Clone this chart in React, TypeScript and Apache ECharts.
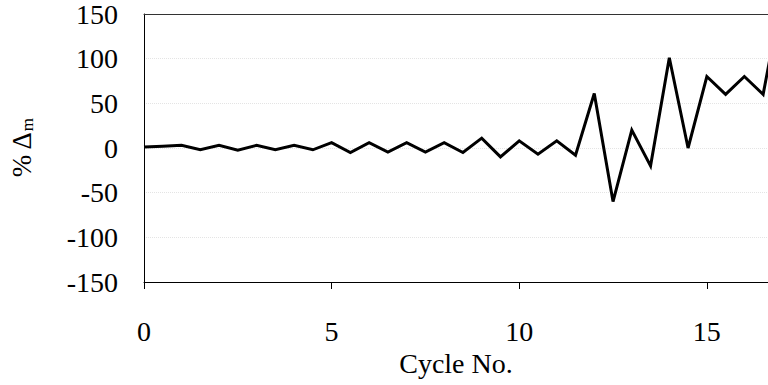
import React, { useEffect, useRef } from "react";
import * as echarts from "echarts";

const cycles: number[] = [
  0, 0.5, 1, 1.5, 2, 2.5, 3, 3.5, 4, 4.5, 5, 5.5, 6, 6.5, 7, 7.5, 8, 8.5,
  9, 9.5, 10, 10.5, 11, 11.5, 12, 12.5, 13, 13.5, 14, 14.5, 15, 15.5, 16,
  16.5, 17,
];
const deltaM: number[] = [
  1, 2, 3, -2, 3, -2.5, 3, -2, 3, -2, 6, -5, 6, -4.5, 6, -4.5, 6, -5, 11,
  -10, 8, -7, 8, -8, 61, -60, 20, -20, 101, 0, 80, 60, 80, 60, 170,
];
const xTicks: number[] = [0, 5, 10, 15];
const yTicks: number[] = [-150, -100, -50, 0, 50, 100, 150];

const FONT = "Liberation Serif";

export default function App() {
  const ref = useRef<HTMLDivElement>(null);
  useEffect(() => {
    if (!ref.current) return;
    const chart = echarts.init(ref.current, undefined, { renderer: "svg" });
    const data = cycles.map((c, i) => [c, deltaM[i]]);
    chart.setOption({
      animation: false,
      backgroundColor: "#ffffff",
      grid: { left: 142, top: 13.5, right: 0, bottom: 103, containLabel: false },
      xAxis: [
        {
          type: "value",
          min: 0,
          max: 16.63,
          interval: 5,
          name: "Cycle No.",
          nameLocation: "middle",
          nameGap: 64,
          nameTextStyle: { fontFamily: FONT, fontSize: 28, color: "#000" },
          axisLine: { show: true, onZero: false, lineStyle: { color: "#000", width: 1 } },
          axisTick: {
            show: true,
            length: 7,
            inside: false,
            customValues: xTicks,
            lineStyle: { color: "#000", width: 1 },
          },
          axisLabel: {
            customValues: xTicks,
            margin: 35,
            fontFamily: FONT,
            fontSize: 28,
            color: "#000",
          },
          splitLine: { show: false },
        },
        {
          type: "value",
          position: "top",
          min: 0,
          max: 16.63,
          axisLine: { show: true, onZero: false, lineStyle: { color: "#333", width: 1 } },
          axisTick: { show: false },
          axisLabel: { show: false },
          splitLine: { show: false },
        },
      ],
      yAxis: {
        type: "value",
        min: -150,
        max: 150,
        interval: 50,
        name: "% Δ{sub|m}",
        nameLocation: "middle",
        nameRotate: 90,
        nameGap: 108,
        nameTextStyle: {
          fontFamily: FONT,
          fontSize: 27,
          color: "#000",
          rich: {
            sub: { fontFamily: FONT, fontSize: 17, color: "#000", verticalAlign: "bottom", padding: [12, 0, 0, 0] },
          },
        },
        axisLine: { show: true, onZero: false, lineStyle: { color: "#000", width: 1 } },
        axisTick: { show: false },
        axisLabel: {
          customValues: yTicks,
          margin: 26,
          fontFamily: FONT,
          fontSize: 28,
          color: "#000",
        },
        splitLine: { show: true, lineStyle: { color: "#e4e4e4", type: "dotted", width: 1 } },
      },
      series: [
        {
          type: "line",
          data,
          xAxisIndex: 0,
          showSymbol: false,
          symbol: "none",
          clip: true,
          lineStyle: { color: "#000", width: 3, join: "miter" },
        },
      ],
    });
    return () => chart.dispose();
  }, []);
  return (
    <div
      ref={ref}
      style={{ position: "fixed", left: 0, top: 0, width: 768, height: 385 }}
    />
  );
}
